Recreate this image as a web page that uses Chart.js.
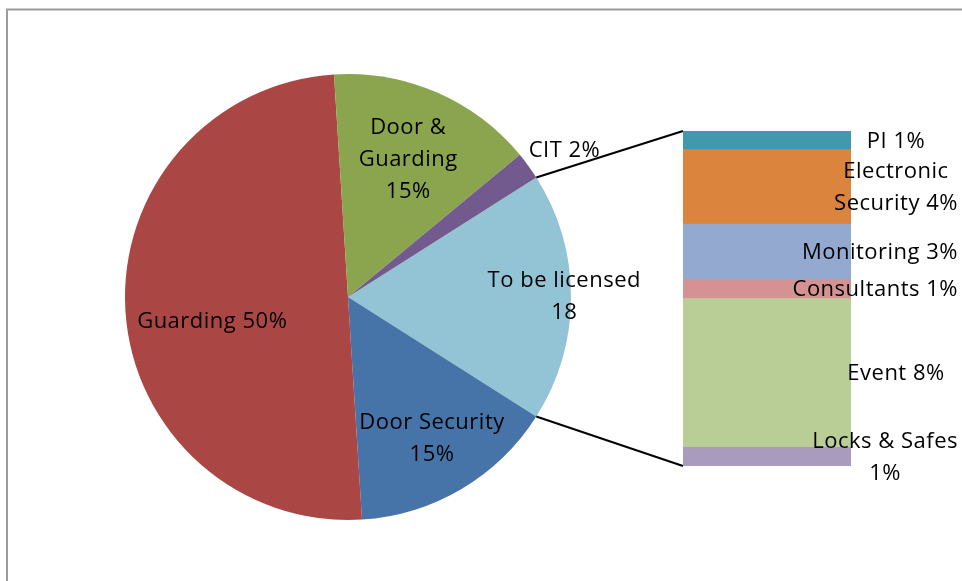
<!DOCTYPE html>
<html>
<head>
<meta charset="utf-8">
<script src="https://cdn.jsdelivr.net/npm/chart.js@4.4.1/dist/chart.umd.min.js"></script>
<style>
  html, body { margin: 0; padding: 0; background: #fff; overflow: hidden; }
  #wrap { position: relative; width: 962px; height: 581px; }
  #wrap canvas { position: absolute; left: 0; top: 0; }
</style>
</head>
<body>
<div id="wrap">
  <canvas id="pie" width="962" height="581"></canvas>
  <canvas id="bar" width="962" height="581"></canvas>
</div>
<script>
// ── data ────────────────────────────────────────────────
const pieCategories = ["To be licensed", "Door Security", "Guarding", "Door & Guarding", "CIT"];
const pieValues = [18, 15, 50, 15, 2];
const pieColors = ["#93C4D5", "#4674A8", "#AA4745", "#8BA54E", "#725A8F"];
const pieLabelLines = [
  ["To be licensed", "18"],
  ["Door Security", "15%"],
  ["Guarding 50%"],
  ["Door &", "Guarding", "15%"],
  ["CIT 2%"]
];

// bottom to top of the stacked bar
const barCategories = ["Locks & Safes", "Event", "Consultants", "Monitoring", "Electronic Security", "PI"];
const barValues = [1, 8, 1, 3, 4, 1];
const barColors = ["#A99BBE", "#B9CD97", "#D49392", "#94A9CF", "#DB843D", "#4299AE"];
const barLabelLines = [
  ["Locks & Safes", "1%"],
  ["Event 8%"],
  ["Consultants 1%"],
  ["Monitoring 3%"],
  ["Electronic", "Security 4%"],
  ["PI 1%"]
];

const FONT = "22px 'Open Sans', 'Liberation Sans', sans-serif";
const LINE_H = 32;

function setText(ctx) {
  ctx.font = FONT;
  ctx.letterSpacing = "0.5px";
  ctx.fillStyle = "#000";
  ctx.textAlign = "center";
  ctx.textBaseline = "middle";
}

function drawLines(ctx, lines, cx, cy) {
  const top = cy - (lines.length - 1) * LINE_H / 2;
  lines.forEach(function (t, i) { ctx.fillText(t, cx, top + i * LINE_H); });
}

// ── pie ─────────────────────────────────────────────────
const frame = {
  id: "frame",
  beforeDraw(chart) {
    const ctx = chart.ctx;
    ctx.save();
    ctx.strokeStyle = "#9c9c9c";
    ctx.lineWidth = 2;
    ctx.strokeRect(7, 9.5, 1200, 1200);
    ctx.restore();
  }
};

// radial position of each label, as a share of the radius
const piePlace = [
  { f: 0.97, dy: 0 },
  { f: 0.74, dy: 0 },
  { f: 0.61, dy: 16 },
  { f: 0.68, dy: 2 },
  { f: 1.2, dy: 11 }
];

const pieText = {
  id: "pieText",
  afterDatasetsDraw(chart) {
    const ctx = chart.ctx;
    const arcs = chart.getDatasetMeta(0).data;
    ctx.save();
    setText(ctx);
    arcs.forEach(function (arc, i) {
      const p = arc.getProps(["x", "y", "startAngle", "endAngle", "outerRadius"], true);
      const mid = (p.startAngle + p.endAngle) / 2;
      const r = p.outerRadius * piePlace[i].f;
      drawLines(ctx, pieLabelLines[i], p.x + Math.cos(mid) * r, p.y + Math.sin(mid) * r + piePlace[i].dy);
    });
    ctx.restore();
  }
};

const otherShare = pieValues[0] / pieValues.reduce((a, b) => a + b, 0);

const pieChart = new Chart(document.getElementById("pie"), {
  type: "pie",
  data: {
    labels: pieCategories,
    datasets: [{ data: pieValues, backgroundColor: pieColors, borderWidth: 0 }]
  },
  options: {
    responsive: false,
    animation: false,
    rotation: 90 - otherShare * 180,
    layout: { padding: { left: 125, top: 74, right: 391, bottom: 61 } },
    plugins: { legend: { display: false }, tooltip: { enabled: false } }
  },
  plugins: [frame, pieText]
});

// ── stacked bar ("other" breakdown) ─────────────────────
const barText = {
  id: "barText",
  afterDatasetsDraw(chart) {
    const ctx = chart.ctx;
    ctx.save();
    setText(ctx);
    chart.data.datasets.forEach(function (ds, i) {
      const bar = chart.getDatasetMeta(i).data[0];
      const p = bar.getProps(["x", "y", "base", "width"], true);
      const lines = barLabelLines[i];
      const w = Math.max.apply(null, lines.map(t => ctx.measureText(t).width));
      let cx = p.x + p.width / 2 + 45;
      if (cx + w / 2 > chart.width - 4) cx = chart.width - 4 - w / 2;
      drawLines(ctx, lines, cx, (p.y + p.base) / 2 + 1);
    });

    // connectors from the pie's "other" slice to the bar
    const arc = pieChart.getDatasetMeta(0).data[0].getProps(["x", "y", "startAngle", "endAngle", "outerRadius"], true);
    const topBar = chart.getDatasetMeta(chart.data.datasets.length - 1).data[0].getProps(["x", "y", "width"], true);
    const botBar = chart.getDatasetMeta(0).data[0].getProps(["x", "base", "width"], true);
    ctx.strokeStyle = "#000";
    ctx.lineWidth = 2;
    ctx.beginPath();
    ctx.moveTo(arc.x + Math.cos(arc.startAngle) * arc.outerRadius, arc.y + Math.sin(arc.startAngle) * arc.outerRadius);
    ctx.lineTo(topBar.x - topBar.width / 2, topBar.y);
    ctx.moveTo(arc.x + Math.cos(arc.endAngle) * arc.outerRadius, arc.y + Math.sin(arc.endAngle) * arc.outerRadius);
    ctx.lineTo(botBar.x - botBar.width / 2, botBar.base);
    ctx.stroke();
    ctx.restore();
  }
};

new Chart(document.getElementById("bar"), {
  type: "bar",
  data: {
    labels: ["Other"],
    datasets: barCategories.map(function (name, i) {
      return {
        label: name,
        data: [barValues[i]],
        backgroundColor: barColors[i],
        borderWidth: 0,
        barPercentage: 1,
        categoryPercentage: 1
      };
    })
  },
  options: {
    responsive: false,
    animation: false,
    layout: { padding: { left: 683, right: 111, top: 131, bottom: 115 } },
    scales: {
      x: { stacked: true, display: false },
      y: { stacked: true, display: false, min: 0, max: pieValues[0] }
    },
    plugins: { legend: { display: false }, tooltip: { enabled: false } }
  },
  plugins: [barText]
});
</script>
</body>
</html>
